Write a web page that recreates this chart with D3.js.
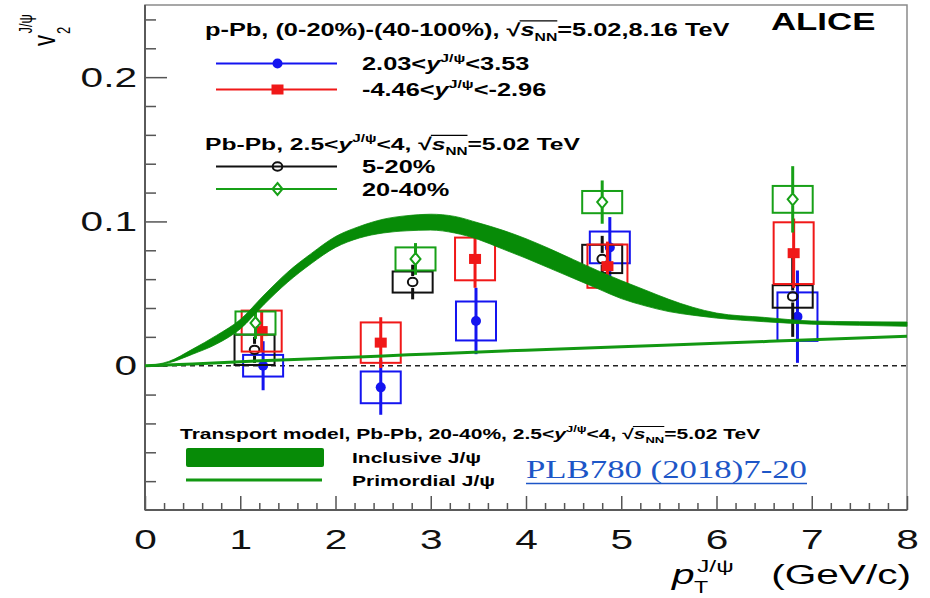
<!DOCTYPE html>
<html>
<head>
<meta charset="utf-8">
<script src="https://cdn.jsdelivr.net/npm/d3@7"></script>
<style>
body { margin: 0; background: #fff; }
svg { display: block; }
</style>
</head>
<body>
<div id="chart"></div>
<script>
// p-Pb, forward rapidity 2.03<y<3.53
var fwdPt   = [1.24, 2.475, 3.475, 4.88, 6.85];
var fwdV2   = [0.000, -0.015, 0.031, 0.082, 0.034];
var fwdStat = [0.017, 0.019, 0.023, 0.021, 0.032];
var fwdSys  = [0.0075, 0.011, 0.0135, 0.011, 0.0168];
// p-Pb, backward rapidity -4.46<y<-2.96
var bwdPt   = [1.225, 2.475, 3.465, 4.855, 6.81];
var bwdV2   = [0.024, 0.016, 0.074, 0.069, 0.078];
var bwdStat = [0.014, 0.0176, 0.020, 0.017, 0.024];
var bwdSys  = [0.0142, 0.014, 0.0148, 0.015, 0.0214];
// Pb-Pb 5-20%
var cenPt   = [1.15, 2.81, 4.80, 6.80];
var cenV2   = [0.011, 0.058, 0.074, 0.048];
var cenStat = [0.009, 0.012, 0.016, 0.028];
var cenSys  = [0.0105, 0.0073, 0.0098, 0.0078];
// Pb-Pb 20-40%
var semiPt   = [1.16, 2.84, 4.80, 6.80];
var semiV2   = [0.0296, 0.074, 0.1134, 0.1153];
var semiStat = [0.011, 0.011, 0.015, 0.023];
var semiSys  = [0.008, 0.008, 0.0077, 0.0093];
var sysHalfWidth = 0.21;

// transport model, inclusive band and primordial line
var bandPt = [0, 0.25, 0.5, 0.75, 1.0, 1.25, 1.5, 1.75, 2.0, 2.25, 2.5, 2.75, 3.0, 3.25, 3.5, 3.75, 4.0, 4.25, 4.5, 4.75, 5.0, 5.25, 5.5, 5.75, 6.0, 6.5, 7.0, 7.5, 8.0];
var bandLo = [0, 0.002, 0.008, 0.015, 0.0255, 0.0425, 0.058, 0.071, 0.082, 0.0885, 0.092, 0.0935, 0.094, 0.092, 0.0875, 0.081, 0.0745, 0.0675, 0.0605, 0.0535, 0.0465, 0.0415, 0.0375, 0.035, 0.033, 0.0305, 0.0288, 0.028, 0.0273];
var bandHi = [0, 0.003, 0.0115, 0.021, 0.032, 0.049, 0.065, 0.078, 0.0895, 0.0965, 0.1015, 0.104, 0.105, 0.1035, 0.099, 0.094, 0.088, 0.081, 0.0735, 0.066, 0.059, 0.0525, 0.046, 0.0405, 0.0365, 0.0335, 0.031, 0.0305, 0.0303];
var primPt = [0, 0.5, 1, 1.5, 2, 2.5, 3, 4, 5, 6, 7, 8];
var primV2 = [0, 0.0012, 0.0028, 0.0042, 0.0055, 0.0068, 0.0082, 0.0108, 0.0132, 0.0155, 0.018, 0.0204];

var xMajor = [0, 1, 2, 3, 4, 5, 6, 7, 8];
var yMajor = [0, 0.1, 0.2];
var sqrtS = [{t: "\u221A", rad: true}, {t: "s", it: true, bar: true}, {t: "NN", sub: true, bar: true}];
var yPsi = [{t: "y", it: true}, {t: "J/\u03C8", sup: true}];

var S = 1.45; // the original is stretched sideways, text too
var font = "'Liberation Sans', Arial, Helvetica, sans-serif";

var x = d3.scaleLinear().domain([0, 8]).range([145, 907]);
var y = d3.scaleLinear().domain([-0.1, 0.25]).range([510, 5]);

var svg = d3.select("#chart").append("svg")
  .attr("width", 930).attr("height", 598)
  .style("font-family", font);

// text with sub/superscripts, stretched like the picture
function richText(parent, x0, y0, segs, fs, opts) {
  opts = opts || {};
  var g = parent.append("g").attr("transform", "translate(" + x0 + "," + y0 + ") scale(" + S + ",1)");
  var t = g.append("text")
    .attr("font-size", fs)
    .attr("font-weight", opts.bold ? "bold" : "normal")
    .attr("text-anchor", opts.anchor || "start")
    .attr("fill", opts.fill || "#000")
    .style("white-space", "pre");
  var off = 0, idx = 0, radIdx = -1, barEnd = -1;
  segs.forEach(function(s) {
    var sh = s.sup ? -0.45 * fs : (s.sub ? 0.3 * fs : 0);
    var sp = t.append("tspan").text(s.t).attr("dy", sh - off);
    off = sh;
    if (s.sup || s.sub) sp.attr("font-size", fs * 0.62);
    if (s.it) sp.attr("font-style", "italic");
    if (s.rad) radIdx = idx;
    idx += s.t.length;
    if (s.bar) barEnd = idx - 1;
  });
  if (radIdx >= 0) {
    var n = t.node();
    var e = n.getExtentOfChar(radIdx);
    var x1 = e.x + e.width - 0.6;
    var x2 = n.getEndPositionOfChar(barEnd).x;
    g.append("line").attr("x1", x1).attr("x2", x2)
      .attr("y1", -0.86 * fs).attr("y2", -0.86 * fs)
      .attr("stroke", opts.fill || "#000").attr("stroke-width", fs * 0.07);
  }
  return g;
}

function marker(g, kind, cx, cy, color) {
  if (kind == "circle") {
    g.append("circle").attr("cx", cx).attr("cy", cy).attr("r", 5).attr("fill", color);
  } else if (kind == "square") {
    g.append("rect").attr("x", cx - 6).attr("y", cy - 5).attr("width", 12).attr("height", 10).attr("fill", color);
  } else if (kind == "ocircle") {
    g.append("ellipse").attr("cx", cx).attr("cy", cy).attr("rx", 4.8).attr("ry", 4.2)
      .attr("fill", "none").attr("stroke", color).attr("stroke-width", 2);
  } else {
    g.append("path").attr("d", "M" + cx + "," + (cy - 6) + "L" + (cx + 5) + "," + cy + "L" + cx + "," + (cy + 6) + "L" + (cx - 5) + "," + cy + "Z")
      .attr("fill", "none").attr("stroke", color).attr("stroke-width", 2);
  }
}

// frame
svg.append("rect").attr("x", 145).attr("y", 5).attr("width", 762).attr("height", 505)
  .attr("fill", "none").attr("stroke", "#8a8a8a").attr("stroke-width", 1.5);

// y axis
var yMinor = d3.range(-8, 25, 2).map(function(d) { return d / 100; })
  .filter(function(v) { return yMajor.indexOf(v) < 0; });
var yAxisMinor = svg.append("g").attr("transform", "translate(145,0)")
  .call(d3.axisLeft(y).tickValues(yMinor).tickSize(-11).tickFormat(""));
var yAxis = svg.append("g").attr("transform", "translate(145,0)")
  .call(d3.axisLeft(y).tickValues(yMajor).tickSize(-22).tickPadding(8)
    .tickFormat(function(d) { return d === 0 ? "0" : d.toFixed(1); }));

// x axis
var xMinor = d3.range(1, 40).filter(function(i) { return i % 5 !== 0; }).map(function(i) { return i * 0.2; });
var xAxisMinor = svg.append("g").attr("transform", "translate(0,510)")
  .call(d3.axisBottom(x).tickValues(xMinor).tickSize(-7).tickFormat(""));
var xAxis = svg.append("g").attr("transform", "translate(0,510)")
  .call(d3.axisBottom(x).tickValues(xMajor).tickSize(-14).tickPadding(19).tickFormat(d3.format("d")));

[yAxisMinor, yAxis, xAxisMinor, xAxis].forEach(function(a) {
  a.select(".domain").remove();
  a.selectAll("line").attr("stroke", "#555").attr("stroke-width", 1.5);
  a.selectAll("text").attr("font-size", 28).attr("font-family", font).attr("fill", "#111");
});
yAxis.selectAll("text").attr("x", -8 / S).attr("transform", "scale(" + S + ",1)");
xAxis.selectAll("text").attr("transform", "scale(" + S + ",1)");

svg.append("line").attr("x1", 145).attr("x2", 145).attr("y1", 5).attr("y2", 510)
  .attr("stroke", "#5a5a5a").attr("stroke-width", 2);
svg.append("line").attr("x1", 145).attr("x2", 907).attr("y1", 510).attr("y2", 510)
  .attr("stroke", "#5a5a5a").attr("stroke-width", 2);

// zero line
svg.append("line").attr("x1", x(0)).attr("x2", x(8)).attr("y1", y(0)).attr("y2", y(0))
  .attr("stroke", "#222").attr("stroke-width", 1.6).attr("stroke-dasharray", "5,4");

// data
var dataLayer = svg.append("g");
function drawSeries(pt, v2, stat, sys, color, kind) {
  var hollow = kind == "ocircle" || kind == "odiamond";
  var pts = pt.map(function(d, i) { return {x: d, y: v2[i], s: stat[i], e: sys[i]}; });
  var g = dataLayer.append("g");
  g.selectAll(".sys").data(pts).enter().append("rect")
    .attr("x", function(d) { return x(d.x - sysHalfWidth); })
    .attr("width", function(d) { return x(d.x + sysHalfWidth) - x(d.x - sysHalfWidth); })
    .attr("y", function(d) { return y(d.y + d.e); })
    .attr("height", function(d) { return y(d.y - d.e) - y(d.y + d.e); })
    .attr("fill", "none").attr("stroke", color).attr("stroke-width", 2);
  var gap = hollow ? 6 : 0;
  g.selectAll(".up").data(pts).enter().append("line")
    .attr("x1", function(d) { return x(d.x); }).attr("x2", function(d) { return x(d.x); })
    .attr("y1", function(d) { return y(d.y + d.s); }).attr("y2", function(d) { return y(d.y) - gap; })
    .attr("stroke", color).attr("stroke-width", 3);
  g.selectAll(".dn").data(pts).enter().append("line")
    .attr("x1", function(d) { return x(d.x); }).attr("x2", function(d) { return x(d.x); })
    .attr("y1", function(d) { return y(d.y) + gap; }).attr("y2", function(d) { return y(d.y - d.s); })
    .attr("stroke", color).attr("stroke-width", 3);
  pts.forEach(function(d) { marker(g, kind, x(d.x), y(d.y), color); });
}
drawSeries(fwdPt, fwdV2, fwdStat, fwdSys, "#1414f0", "circle");
drawSeries(cenPt, cenV2, cenStat, cenSys, "#111", "ocircle");
drawSeries(bwdPt, bwdV2, bwdStat, bwdSys, "#f01818", "square");
drawSeries(semiPt, semiV2, semiStat, semiSys, "#17a017", "odiamond");

// model
var band = bandPt.map(function(d, i) { return {x: d, lo: bandLo[i], hi: bandHi[i]}; });
svg.append("path").datum(band)
  .attr("d", d3.area().curve(d3.curveMonotoneX)
    .x(function(d) { return x(d.x); })
    .y0(function(d) { return y(d.lo); })
    .y1(function(d) { return y(d.hi); }))
  .attr("fill", "#078b07").attr("stroke", "#078b07").attr("stroke-width", 0.8);
var prim = primPt.map(function(d, i) { return {x: d, y: primV2[i]}; });
svg.append("path").datum(prim)
  .attr("d", d3.line().curve(d3.curveMonotoneX)
    .x(function(d) { return x(d.x); })
    .y(function(d) { return y(d.y); }))
  .attr("fill", "none").attr("stroke", "#129812").attr("stroke-width", 3);

// ALICE
richText(svg, 771, 30, [{t: "ALICE"}], 24, {bold: true});

// top legend
var leg = svg.append("g");
richText(leg, 205, 36, [{t: "p-Pb, (0-20%)-(40-100%), "}].concat(sqrtS, [{t: "=5.02,8.16 TeV"}]), 17.5, {bold: true});
richText(leg, 205, 150, [{t: "Pb-Pb, 2.5<"}].concat(yPsi, [{t: "<4, "}], sqrtS, [{t: "=5.02 TeV"}]), 17, {bold: true});
var legEntries = [
  {y: 63.5, color: "#1414f0", kind: "circle", segs: [{t: "2.03<"}].concat(yPsi, [{t: "<3.53"}])},
  {y: 89.5, color: "#f01818", kind: "square", segs: [{t: "-4.46<"}].concat(yPsi, [{t: "<-2.96"}])},
  {y: 166.5, color: "#111", kind: "ocircle", segs: [{t: "5-20%"}]},
  {y: 189, color: "#17a017", kind: "odiamond", segs: [{t: "20-40%"}]}
];
legEntries.forEach(function(e) {
  leg.append("line").attr("x1", 216).attr("x2", 337).attr("y1", e.y).attr("y2", e.y)
    .attr("stroke", e.color).attr("stroke-width", 2);
  marker(leg, e.kind, 277.5, e.y, e.color);
  richText(leg, 362, e.y + 6.5, e.segs, 17.5, {bold: true});
});

// bottom legend
richText(leg, 180, 439, [{t: "Transport model, Pb-Pb, 20-40%, 2.5<"}].concat(yPsi, [{t: "<4, "}], sqrtS, [{t: "=5.02 TeV"}]), 14.5, {bold: true});
leg.append("rect").attr("x", 186).attr("y", 448).attr("width", 138).attr("height", 19).attr("rx", 2)
  .attr("fill", "#078b07");
richText(leg, 352, 463, [{t: "Inclusive J/\u03C8"}], 14.5, {bold: true});
leg.append("line").attr("x1", 186).attr("x2", 322).attr("y1", 480).attr("y2", 480)
  .attr("stroke", "#129812").attr("stroke-width", 3);
richText(leg, 352, 485.5, [{t: "Primordial J/\u03C8"}], 14.5, {bold: true});

// reference link
leg.append("text").attr("x", 526).attr("y", 478)
  .attr("font-family", "'Liberation Serif', 'Times New Roman', serif")
  .attr("font-size", 26).attr("fill", "#1d56c7")
  .attr("textLength", 281).attr("lengthAdjust", "spacingAndGlyphs")
  .text("PLB780 (2018)7-20");
leg.append("line").attr("x1", 526).attr("x2", 807).attr("y1", 483.5).attr("y2", 483.5)
  .attr("stroke", "#1d56c7").attr("stroke-width", 1.5);

// axis titles
var yt = svg.append("g").attr("transform", "translate(55,46) scale(" + S + ",1) rotate(-90)");
yt.append("text").attr("x", 0).attr("y", 0).attr("font-size", 22).text("v");
yt.append("text").attr("x", 12).attr("y", 10.3).attr("font-size", 13).text("2");
yt.append("text").attr("x", 12.5).attr("y", -15.9).attr("font-size", 13).text("J/\u03C8");

richText(svg, 672, 584, [{t: "p", it: true}], 28);
richText(svg, 694, 593, [{t: "T"}], 16);
richText(svg, 697, 572, [{t: "J/\u03C8"}], 17);
richText(svg, 911, 584, [{t: "(GeV/c)"}], 28, {anchor: "end"});
</script>
</body>
</html>
